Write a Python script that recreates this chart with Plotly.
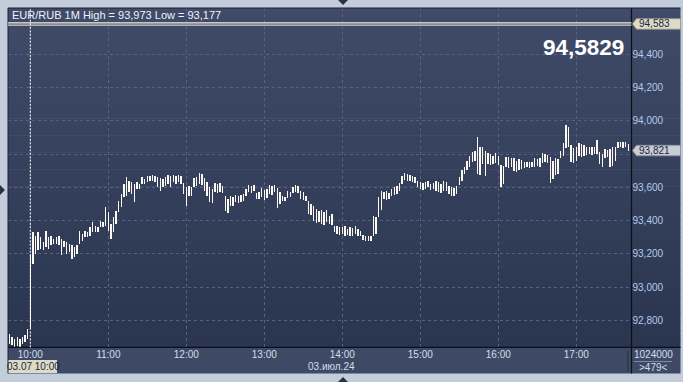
import plotly.graph_objects as go
from datetime import datetime, timedelta

W, H = 683, 382

# ---------------- data ----------------
header_text = "EUR/RUB 1M High = 93,973 Low = 93,177"
last_quote = "94,5829"
level_value = 94.583
level_label = "94,583"
close_value = 93.821
close_label = "93,821"
cursor_time = "2024-07-03 10:00"
cursor_label = "03.07 10:00"
date_label = "03.июл.24"
volume_label = "1024000"
count_label = ">479<"

first_bar = datetime(2024, 7, 3, 9, 44)
bar_minutes = 2

bar_high = [
    92.72, 92.70, 92.69, 92.70, 92.69, 92.70, 92.71, 92.75, 93.20, 93.33,
    93.31, 93.33, 93.30, 93.27, 93.34, 93.30, 93.31, 93.29, 93.30, 93.31,
    93.29, 93.28, 93.27, 93.26, 93.25, 93.24, 93.25, 93.34, 93.32, 93.34,
    93.33, 93.36, 93.39, 93.37, 93.36, 93.40, 93.39, 93.48, 93.45, 93.38,
    93.42, 93.46, 93.52, 93.56, 93.62, 93.66, 93.64, 93.63, 93.62, 93.63,
    93.62, 93.66, 93.65, 93.67, 93.665, 93.675, 93.67, 93.66, 93.655, 93.65,
    93.66, 93.675, 93.67, 93.675, 93.67, 93.675, 93.665, 93.625, 93.60, 93.61,
    93.60, 93.655, 93.66, 93.685, 93.68, 93.655, 93.63, 93.60, 93.59, 93.625,
    93.62, 93.625, 93.61, 93.545, 93.53, 93.545, 93.54, 93.555, 93.55, 93.555,
    93.56, 93.59, 93.615, 93.61, 93.615, 93.565, 93.57, 93.595, 93.585, 93.59,
    93.615, 93.61, 93.615, 93.595, 93.57, 93.545, 93.54, 93.575, 93.57, 93.60,
    93.615, 93.61, 93.575, 93.57, 93.55, 93.515, 93.50, 93.485, 93.47, 93.46,
    93.465, 93.45, 93.465, 93.43, 93.44, 93.37, 93.365, 93.36, 93.36, 93.365,
    93.35, 93.36, 93.355, 93.365, 93.35, 93.34, 93.315, 93.31, 93.305, 93.31,
    93.425, 93.42, 93.54, 93.575, 93.57, 93.575, 93.565, 93.59, 93.60, 93.61,
    93.625, 93.665, 93.685, 93.68, 93.675, 93.665, 93.66, 93.635, 93.63, 93.625,
    93.63, 93.635, 93.62, 93.625, 93.635, 93.63, 93.62, 93.635, 93.63, 93.605,
    93.60, 93.595, 93.605, 93.66, 93.705, 93.72, 93.76, 93.79, 93.815, 93.82,
    93.905, 93.845, 93.84, 93.82, 93.805, 93.80, 93.79, 93.805, 93.79, 93.735,
    93.73, 93.785, 93.78, 93.775, 93.775, 93.76, 93.77, 93.765, 93.755, 93.75,
    93.755, 93.75, 93.775, 93.77, 93.775, 93.805, 93.80, 93.795, 93.785, 93.76,
    93.775, 93.77, 93.82, 93.865, 93.975, 93.96, 93.855, 93.835, 93.84, 93.865,
    93.86, 93.855, 93.845, 93.84, 93.845, 93.84, 93.885, 93.81, 93.80, 93.83,
    93.825, 93.83, 93.845, 93.84, 93.87, 93.875, 93.87, 93.875, 93.86,
]
bar_low = [
    92.66, 92.65, 92.64, 92.645, 92.64, 92.655, 92.67, 92.69, 92.75, 93.14,
    93.20, 93.22, 93.23, 93.22, 93.24, 93.23, 93.25, 93.26, 93.26, 93.25,
    93.19, 93.24, 93.20, 93.21, 93.17, 93.18, 93.20, 93.26, 93.28, 93.30,
    93.30, 93.31, 93.33, 93.33, 93.33, 93.36, 93.36, 93.37, 93.34, 93.29,
    93.33, 93.38, 93.45, 93.48, 93.54, 93.55, 93.57, 93.56, 93.51, 93.59,
    93.59, 93.62, 93.62, 93.63, 93.635, 93.64, 93.63, 93.60, 93.575, 93.60,
    93.61, 93.62, 93.60, 93.63, 93.62, 93.63, 93.62, 93.56, 93.49, 93.55,
    93.545, 93.60, 93.61, 93.62, 93.615, 93.58, 93.545, 93.51, 93.505, 93.57,
    93.565, 93.57, 93.565, 93.46, 93.445, 93.49, 93.485, 93.51, 93.505, 93.51,
    93.515, 93.55, 93.57, 93.565, 93.575, 93.53, 93.53, 93.54, 93.525, 93.535,
    93.56, 93.555, 93.57, 93.475, 93.50, 93.515, 93.515, 93.535, 93.54, 93.565,
    93.57, 93.565, 93.53, 93.525, 93.52, 93.44, 93.435, 93.40, 93.385, 93.39,
    93.38, 93.375, 93.39, 93.38, 93.375, 93.33, 93.32, 93.315, 93.32, 93.31,
    93.315, 93.305, 93.31, 93.32, 93.31, 93.305, 93.285, 93.28, 93.275, 93.28,
    93.305, 93.32, 93.42, 93.465, 93.53, 93.525, 93.53, 93.55, 93.555, 93.56,
    93.575, 93.62, 93.645, 93.635, 93.64, 93.63, 93.625, 93.60, 93.59, 93.585,
    93.59, 93.60, 93.585, 93.59, 93.58, 93.57, 93.565, 93.58, 93.575, 93.56,
    93.545, 93.55, 93.56, 93.615, 93.64, 93.68, 93.705, 93.72, 93.75, 93.76,
    93.68, 93.675, 93.74, 93.665, 93.74, 93.735, 93.74, 93.745, 93.735, 93.60,
    93.62, 93.72, 93.715, 93.72, 93.70, 93.695, 93.705, 93.71, 93.715, 93.72,
    93.715, 93.72, 93.725, 93.73, 93.725, 93.745, 93.75, 93.745, 93.625, 93.65,
    93.675, 93.68, 93.775, 93.79, 93.835, 93.84, 93.755, 93.745, 93.76, 93.79,
    93.785, 93.79, 93.795, 93.80, 93.795, 93.80, 93.80, 93.74, 93.725, 93.775,
    93.78, 93.725, 93.73, 93.76, 93.835, 93.84, 93.835, 93.84, 93.82,
]

ytick_vals = [92.8, 93.0, 93.2, 93.4, 93.6, 93.8, 94.0, 94.2, 94.4]
ytick_text = ["92,800", "93,000", "93,200", "93,400", "93,600",
              "93,800", "94,000", "94,200", "94,400"]
xtick_vals = ["2024-07-03 10:00", "2024-07-03 11:00", "2024-07-03 12:00",
              "2024-07-03 13:00", "2024-07-03 14:00", "2024-07-03 15:00",
              "2024-07-03 16:00", "2024-07-03 17:00"]
xtick_text = ["10:00", "11:00", "12:00", "13:00", "14:00", "15:00",
              "16:00", "17:00"]

x_range = ["2024-07-03 09:42:50.8", "2024-07-03 17:42:27.7"]
y_range = [92.6376, 94.6785]

assert len(bar_high) == len(bar_low)
bar_times = [first_bar + timedelta(minutes=bar_minutes * i) for i in range(len(bar_high))]
bar_span = [h - l for h, l in zip(bar_high, bar_low)]

# tick labels hidden behind the closing-price tag (as in the terminal)
shown_ytext = [t if abs(v - close_value) > 0.05 else "" for v, t in zip(ytick_vals, ytick_text)]

# ---------------- helpers (pixel -> paper) ----------------
def px(x):
    return x / W

def py(y):
    return 1 - y / H

FONT = "Arial, Liberation Sans, sans-serif"
PLOT_L, PLOT_R, PLOT_T, PLOT_B = 8, 631.5, 8, 347.3
PANEL_R = 680.5
STRIP_B = 373.5

fig = go.Figure()
fig.add_trace(go.Bar(
    x=bar_times, y=bar_span, base=bar_low, width=72000,
    marker=dict(color="#fdf8f2", line=dict(width=0)),
    hoverinfo="skip", showlegend=False,
))

shapes = []
# dark background gradient (bands)
top_rgb = (63, 75, 104)
bot_rgb = (42, 53, 79)
n = 40
band = (PLOT_B - PLOT_T) / n
for i in range(n):
    f = (i + 0.5) / n
    c = tuple(round(a + (b - a) * f) for a, b in zip(top_rgb, bot_rgb))
    y0 = PLOT_T + i * band
    shapes.append(dict(type="rect", xref="paper", yref="paper", layer="below",
                       x0=px(PLOT_L), x1=px(PANEL_R), y0=py(y0), y1=py(y0 + band + 0.6),
                       line=dict(width=0), fillcolor="rgb(%d,%d,%d)" % c))
# x-axis strip
shapes.append(dict(type="rect", xref="paper", yref="paper", layer="below",
                   x0=px(PLOT_L), x1=px(PANEL_R), y0=py(PLOT_B), y1=py(STRIP_B),
                   line=dict(width=0), fillcolor="#3e4a65"))
# frame outline lines
shapes.append(dict(type="line", xref="paper", yref="paper", layer="above",
                   x0=px(PLOT_R), x1=px(PLOT_R), y0=py(PLOT_T), y1=py(STRIP_B),
                   line=dict(color="#0c0f18", width=1.2)))
shapes.append(dict(type="line", xref="paper", yref="paper", layer="above",
                   x0=px(PLOT_L), x1=px(PANEL_R), y0=py(PLOT_B), y1=py(PLOT_B),
                   line=dict(color="#0c0f18", width=1.2)))
shapes.append(dict(type="line", xref="paper", yref="paper", layer="above",
                   x0=px(PLOT_L), x1=px(PANEL_R), y0=py(PLOT_T), y1=py(PLOT_T),
                   line=dict(color="#1a2030", width=1)))
shapes.append(dict(type="line", xref="paper", yref="paper", layer="above",
                   x0=px(PLOT_L), x1=px(PLOT_L), y0=py(PLOT_T), y1=py(STRIP_B),
                   line=dict(color="#1a2030", width=1)))
# separator in the x strip
shapes.append(dict(type="line", xref="paper", yref="paper", layer="above",
                   x0=px(628), x1=px(628), y0=py(351), y1=py(372),
                   line=dict(color="#262e42", width=1)))
# underline between volume and count
shapes.append(dict(type="line", xref="paper", yref="paper", layer="above",
                   x0=px(634), x1=px(672), y0=py(361.5), y1=py(361.5),
                   line=dict(color="#7d8aa2", width=1)))
# crosshair
shapes.append(dict(type="line", xref="x", yref="paper", layer="above",
                   x0=cursor_time, x1=cursor_time, y0=py(PLOT_B), y1=py(PLOT_T),
                   line=dict(color="#ffffff", width=1, dash="2px,1.5px")))
# level line (double)
upx = (y_range[1] - y_range[0]) / (PLOT_B - PLOT_T)
shapes.append(dict(type="line", xref="paper", yref="y", layer="above",
                   x0=px(PLOT_L), x1=px(PLOT_R), y0=level_value + 1.0 * upx, y1=level_value + 1.0 * upx,
                   line=dict(color="#f4f2ee", width=1.4)))
shapes.append(dict(type="line", xref="paper", yref="y", layer="above",
                   x0=px(PLOT_L), x1=px(PLOT_R), y0=level_value - 1.2 * upx, y1=level_value - 1.2 * upx,
                   line=dict(color="#d8d2c0", width=1.2)))

def tag_path(yc, x0=632.5, x1=680.5, h=10.5):
    pts = [(x0, yc), (x0 + 4, yc - h / 2), (x1, yc - h / 2), (x1, yc + h / 2), (x0 + 4, yc + h / 2)]
    return "M " + " L ".join("%.5f,%.5f" % (px(a), py(b)) for a, b in pts) + " Z"

def val_to_px(v):
    return PLOT_B - (v - y_range[0]) / upx

shapes.append(dict(type="path", xref="paper", yref="paper", layer="above",
                   path=tag_path(val_to_px(level_value)), fillcolor="#dcdcc6",
                   line=dict(color="#9a9a88", width=0.8)))
shapes.append(dict(type="path", xref="paper", yref="paper", layer="above",
                   path=tag_path(val_to_px(close_value)), fillcolor="#c9ccd3",
                   line=dict(color="#8a90a0", width=0.8)))
# cursor date box
shapes.append(dict(type="rect", xref="paper", yref="paper", layer="above",
                   x0=px(8.5), x1=px(57), y0=py(360), y1=py(373),
                   fillcolor="#dcdcc6", line=dict(width=0)))
# triangles
def tri(points, color="#26324a"):
    return dict(type="path", xref="paper", yref="paper", layer="above",
                path="M " + " L ".join("%.5f,%.5f" % (px(a), py(b)) for a, b in points) + " Z",
                fillcolor=color, line=dict(width=0))
shapes.append(tri([(338, 0), (348, 0), (343, 5)]))
shapes.append(tri([(338, 382), (348, 382), (343, 377)]))
shapes.append(tri([(0, 185), (0, 195), (5, 190)]))

annotations = [
    dict(text=header_text, xref="paper", yref="paper", x=px(9.5), y=py(14.5),
         xanchor="left", yanchor="middle", showarrow=False,
         font=dict(family=FONT, size=11, color="#f2f2f4")),
    dict(text="<b>%s</b>" % last_quote, xref="paper", yref="paper", x=px(626), y=py(47),
         xanchor="right", yanchor="middle", showarrow=False,
         font=dict(family=FONT, size=22.5, color="#ffffff")),
    dict(text=level_label, xref="paper", yref="paper", x=px(637), y=py(val_to_px(level_value)),
         xanchor="left", yanchor="middle", showarrow=False,
         font=dict(family=FONT, size=10, color="#1c2440")),
    dict(text=close_label, xref="paper", yref="paper", x=px(637), y=py(val_to_px(close_value)),
         xanchor="left", yanchor="middle", showarrow=False,
         font=dict(family=FONT, size=10, color="#1c2440")),
    dict(text=cursor_label, xref="paper", yref="paper", x=px(33), y=py(366.5),
         xanchor="center", yanchor="middle", showarrow=False,
         font=dict(family=FONT, size=10, color="#1c2440")),
    dict(text=date_label, xref="paper", yref="paper", x=px(331), y=py(366.5),
         xanchor="center", yanchor="middle", showarrow=False,
         font=dict(family=FONT, size=10, color="#d4ddec")),
    dict(text=volume_label, xref="paper", yref="paper", x=px(653), y=py(354.5),
         xanchor="center", yanchor="middle", showarrow=False,
         font=dict(family=FONT, size=10, color="#d4ddec")),
    dict(text=count_label, xref="paper", yref="paper", x=px(653), y=py(367.5),
         xanchor="center", yanchor="middle", showarrow=False,
         font=dict(family=FONT, size=10, color="#d4ddec")),
]

fig.update_layout(
    width=W, height=H,
    margin=dict(l=0, r=0, t=0, b=0, pad=0),
    paper_bgcolor="#c2ccda",
    plot_bgcolor="rgba(0,0,0,0)",
    showlegend=False,
    hovermode=False,
    bargap=0,
    shapes=shapes,
    annotations=annotations,
    font=dict(family=FONT),
    xaxis=dict(
        type="date", range=x_range, domain=[px(PLOT_L), px(PLOT_R)],
        tickvals=xtick_vals, ticktext=xtick_text,
        showgrid=True, gridcolor="#56637f", gridwidth=1, griddash="3px,3px",
        zeroline=False, showline=False, ticks="",
        tickfont=dict(family=FONT, size=10, color="#d4ddec"),
        fixedrange=True,
    ),
    yaxis=dict(
        range=y_range, domain=[py(PLOT_B), py(PLOT_T)], side="right",
        tickvals=ytick_vals, ticktext=shown_ytext,
        showgrid=True, gridcolor="#56637f", gridwidth=1, griddash="3px,3px",
        zeroline=False, showline=False, ticks="",
        tickfont=dict(family=FONT, size=10, color="#b3cbec"),
        fixedrange=True,
    ),
)

fig.write_html("out.html", config={"displayModeBar": False, "staticPlot": True})
